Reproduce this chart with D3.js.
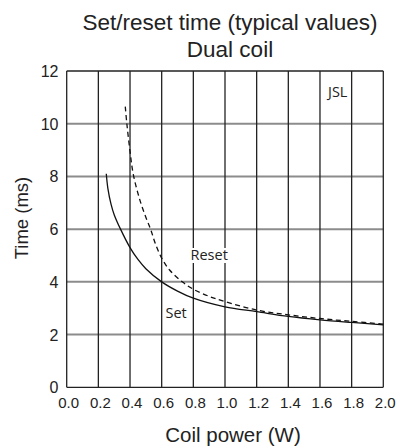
<!DOCTYPE html>
<html>
<head>
<meta charset="utf-8">
<script src="https://cdn.jsdelivr.net/npm/d3@7"></script>
<style>
  body { margin: 0; background: #fff; }
  svg { display: block; }
</style>
</head>
<body>
<div id="chart"></div>
<script>
// data
const setPower = [0.25, 0.26, 0.28, 0.30, 0.34, 0.40, 0.45, 0.50, 0.60, 0.70, 0.80, 1.00, 1.20, 1.40, 1.60, 1.80, 2.00];
const setTime  = [8.1, 7.55, 6.95, 6.55, 6.0, 5.3, 4.85, 4.5, 4.0, 3.65, 3.38, 3.05, 2.87, 2.69, 2.56, 2.46, 2.37];

const resetPower = [0.37, 0.38, 0.40, 0.42, 0.46, 0.50, 0.53, 0.56, 0.60, 0.65, 0.73, 0.80, 0.90, 1.00, 1.20, 1.40, 1.60, 1.80, 2.00];
const resetTime  = [10.65, 10.0, 8.95, 8.1, 7.15, 6.45, 6.0, 5.45, 4.9, 4.45, 4.0, 3.72, 3.45, 3.25, 2.93, 2.75, 2.61, 2.5, 2.4];

const xTicks = [0, 0.2, 0.4, 0.6, 0.8, 1.0, 1.2, 1.4, 1.6, 1.8, 2.0];
const yTicks = [0, 2, 4, 6, 8, 10, 12];

const width = 400;
const height = 446;
const margin = { top: 71, right: 16.7, bottom: 58.7, left: 66.7 };

const svg = d3.select("#chart")
  .append("svg")
  .attr("width", width)
  .attr("height", height);

const x = d3.scaleLinear()
  .domain([0, 2])
  .range([margin.left, width - margin.right]);

const y = d3.scaleLinear()
  .domain([0, 12])
  .range([height - margin.bottom, margin.top]);

const font = "'Liberation Sans', Arial, sans-serif";
const labelFont = "'Open Sans', 'Noto Sans', sans-serif";

// horizontal grid (grey)
svg.append("g")
  .selectAll("line")
  .data(yTicks.filter(d => d > 0 && d < 12))
  .join("line")
  .attr("x1", x(0))
  .attr("x2", x(2))
  .attr("y1", d => y(d))
  .attr("y2", d => y(d))
  .attr("stroke", "#8c8c8c")
  .attr("stroke-width", 2);

// vertical grid (dark)
svg.append("g")
  .selectAll("line")
  .data(xTicks)
  .join("line")
  .attr("x1", d => x(d))
  .attr("x2", d => x(d))
  .attr("y1", y(0))
  .attr("y2", y(12))
  .attr("stroke", "#222")
  .attr("stroke-width", 1.3);

// top and bottom frame
svg.append("g")
  .selectAll("line")
  .data([0, 12])
  .join("line")
  .attr("x1", x(0))
  .attr("x2", x(2))
  .attr("y1", d => y(d))
  .attr("y2", d => y(d))
  .attr("stroke", "#222")
  .attr("stroke-width", 1.3);

// tick labels
svg.append("g")
  .selectAll("text")
  .data(xTicks)
  .join("text")
  .attr("x", d => x(d) + 2)
  .attr("y", 408)
  .attr("text-anchor", "middle")
  .attr("font-family", font)
  .attr("font-size", 15)
  .attr("fill", "#222")
  .text(d => d3.format(".1f")(d));

svg.append("g")
  .selectAll("text")
  .data(yTicks)
  .join("text")
  .attr("x", 58.5)
  .attr("y", d => y(d) + 6)
  .attr("text-anchor", "end")
  .attr("font-family", font)
  .attr("font-size", 16)
  .attr("fill", "#222")
  .text(d => d);

// curves
const line = d3.line()
  .x(d => x(d[0]))
  .y(d => y(d[1]))
  .curve(d3.curveCatmullRom.alpha(0.5));

svg.append("path")
  .datum(d3.zip(setPower, setTime))
  .attr("d", line)
  .attr("fill", "none")
  .attr("stroke", "#111")
  .attr("stroke-width", 1.3);

svg.append("path")
  .datum(d3.zip(resetPower, resetTime))
  .attr("d", line)
  .attr("fill", "none")
  .attr("stroke", "#111")
  .attr("stroke-width", 1.3)
  .attr("stroke-dasharray", "5,3.5");

// in-plot labels with white backing
function plotLabel(px, py, txt, box) {
  if (box) {
    svg.append("rect")
      .attr("x", px - 2)
      .attr("y", py - 12)
      .attr("width", 40)
      .attr("height", 15)
      .attr("fill", "#fff");
  }
  svg.append("text")
    .attr("x", px)
    .attr("y", py)
    .attr("font-family", labelFont)
    .attr("font-size", 14.5)
    .attr("fill", "#222")
    .text(txt);
}
plotLabel(190.5, 260, "Reset", true);
plotLabel(165.5, 318, "Set", false);
plotLabel(328, 97, "JSL", false);

// titles
svg.append("text")
  .attr("x", 230)
  .attr("y", 30)
  .attr("text-anchor", "middle")
  .attr("font-family", font)
  .attr("font-size", 22.5)
  .attr("fill", "#222")
  .text("Set/reset time (typical values)");

svg.append("text")
  .attr("x", 230)
  .attr("y", 57)
  .attr("text-anchor", "middle")
  .attr("font-family", font)
  .attr("font-size", 22.5)
  .attr("fill", "#222")
  .text("Dual coil");

svg.append("text")
  .attr("x", 233)
  .attr("y", 441.5)
  .attr("text-anchor", "middle")
  .attr("font-family", font)
  .attr("font-size", 20.5)
  .attr("fill", "#222")
  .text("Coil power (W)");

svg.append("text")
  .attr("transform", `translate(28,218) rotate(-90)`)
  .attr("text-anchor", "middle")
  .attr("font-family", font)
  .attr("font-size", 18.5)
  .attr("fill", "#222")
  .text("Time (ms)");
</script>
</body>
</html>
